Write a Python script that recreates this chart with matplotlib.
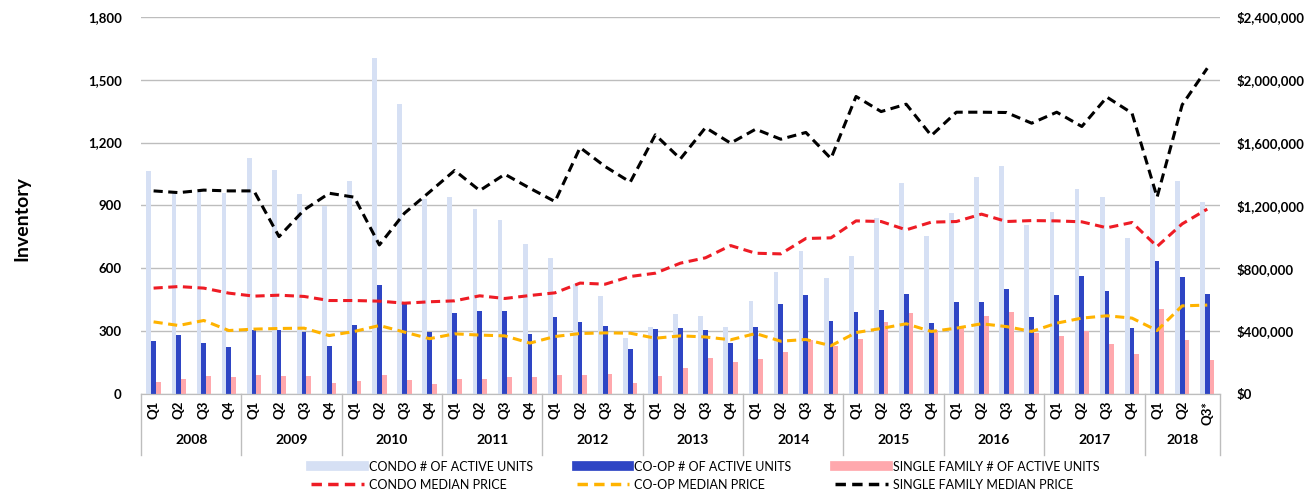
import matplotlib
matplotlib.use('Agg')
import matplotlib.pyplot as plt
import matplotlib.ticker as mticker
from matplotlib.lines import Line2D
import numpy as np

years = ['2008', '2009', '2010', '2011', '2012', '2013', '2014', '2015', '2016', '2017', '2018']
quarters = ['Q1', 'Q2', 'Q3', 'Q4'] * 10 + ['Q1', 'Q2', 'Q3*']

# inventory (# of active units)
condo_units = [1065, 961, 965, 960, 1127, 1070, 954, 895, 1017, 1603, 1383, 930,
               939, 882, 829, 716, 649, 525, 465, 267, 318, 382, 372, 318,
               444, 584, 680, 552, 659, 840, 1009, 755, 864, 1033, 1089, 806,
               869, 977, 939, 746, 998, 1017, 915]
coop_units = [252, 282, 245, 223, 306, 306, 296, 226, 330, 519, 430, 296,
              388, 396, 396, 287, 369, 341, 326, 213, 309, 315, 306, 242,
              321, 428, 470, 350, 392, 401, 479, 338, 439, 439, 501, 368,
              470, 565, 493, 312, 635, 559, 476]
sf_units = [56, 72, 86, 78, 91, 86, 86, 51, 62, 91, 68, 48,
            73, 73, 78, 78, 92, 92, 97, 51, 86, 124, 169, 154,
            166, 202, 255, 226, 263, 345, 385, 306, 314, 372, 392, 290,
            277, 301, 239, 191, 404, 259, 162]

# median prices ($ thousands)
condo_price = [673, 683, 673, 641, 622, 628, 620, 594, 594, 590, 577, 586,
               592, 624, 607, 626, 643, 705, 698, 747, 768, 832, 866, 944,
               895, 891, 989, 993, 1101, 1097, 1044, 1093, 1097, 1144, 1097, 1103,
               1101, 1095, 1057, 1091, 938, 1082, 1176]
coop_price = [458, 435, 467, 403, 412, 416, 418, 371, 397, 435, 393, 351,
              382, 374, 369, 323, 365, 384, 388, 386, 354, 369, 362, 344,
              384, 335, 346, 306, 390, 416, 446, 397, 418, 446, 428, 397,
              450, 482, 497, 482, 403, 560, 565]
sf_price = [1292, 1281, 1297, 1292, 1292, 1001, 1171, 1277, 1252, 948, 1150, 1285,
            1422, 1294, 1398, 1309, 1224, 1568, 1447, 1348, 1649, 1496, 1695, 1596,
            1685, 1621, 1664, 1498, 1893, 1797, 1844, 1644, 1793, 1793, 1791, 1723,
            1793, 1702, 1889, 1787, 1252, 1840, 2073]

c_condo = '#d6e0f4'
c_coop = '#2e45c4'
c_sf = '#ffa8ad'
c_condo_p = '#ee1c25'
c_coop_p = '#ffb300'
c_sf_p = '#000000'

plt.rcParams['font.family'] = ['Lato', 'DejaVu Sans']

fig = plt.figure(figsize=(13.06, 4.96), dpi=100)
ax = fig.add_axes([0.108, 0.206, 0.826, 0.760])
ax2 = ax.twinx()

n = len(quarters)
x = np.arange(n)
w = 0.19
ax.bar(x - w, condo_units, w, color=c_condo, zorder=2)
ax.bar(x, coop_units, w, color=c_coop, zorder=2)
ax.bar(x + w, sf_units, w, color=c_sf, zorder=2)

dash = (3, 1.8)
k = 1000
ax2.plot(x, np.array(condo_price) * k, color=c_condo_p, lw=2.2, dashes=dash)
ax2.plot(x, np.array(coop_price) * k, color=c_coop_p, lw=2.2, dashes=dash)
ax2.plot(x, np.array(sf_price) * k, color=c_sf_p, lw=2.2, dashes=dash)

ax.set_xlim(-0.5, n - 0.5)
ax.set_ylim(0, 1800)
ax.set_yticks(np.arange(0, 1801, 300))
ax.yaxis.set_major_formatter(mticker.FuncFormatter(lambda v, p: '{:,.0f}'.format(v)))
ax2.set_ylim(0, 2400000)
ax2.set_yticks(np.arange(0, 2400001, 400000))
ax2.yaxis.set_major_formatter(mticker.FuncFormatter(lambda v, p: '${:,.0f}'.format(v)))

ax.grid(axis='y', color='#bdbdbd', lw=1, zorder=0)
ax.set_axisbelow(True)
for a in (ax, ax2):
    for s in ['top', 'left', 'right']:
        a.spines[s].set_visible(False)
    a.spines['bottom'].set_color('#bdbdbd')
    a.tick_params(axis='y', length=0, labelsize=9.5)
    for lab in a.get_yticklabels():
        lab.set_fontweight('bold')
ax.tick_params(axis='y', pad=14)
ax2.tick_params(axis='y', pad=12)

ax.set_xticks(x)
ax.set_xticklabels(quarters, rotation=90, fontweight='bold', fontsize=9.5)
ax.tick_params(axis='x', length=0, pad=5)

# year labels and separators
trans = ax.get_xaxis_transform()
starts = list(range(0, n, 4)) + [n]
for i, yr in enumerate(years):
    s, e = starts[i], starts[i + 1]
    ax.text((s + e - 1) / 2, -0.123, yr, transform=trans, ha='center', va='center',
            fontweight='bold', fontsize=10)
for b in starts:
    ax.plot([b - 0.5, b - 0.5], [0, -0.162], transform=trans, color='#bdbdbd',
            lw=1, clip_on=False)

fig.text(0.017, 0.56, 'Inventory', rotation=90, ha='center', va='center',
         fontsize=14, fontweight='bold')

handles = [
    Line2D([], [], color=c_condo, lw=7),
    Line2D([], [], color=c_condo_p, lw=2.5, dashes=dash),
    Line2D([], [], color=c_coop, lw=7),
    Line2D([], [], color=c_coop_p, lw=2.5, dashes=dash),
    Line2D([], [], color=c_sf, lw=7),
    Line2D([], [], color=c_sf_p, lw=2.5, dashes=dash),
]
labels = ['CONDO # OF ACTIVE UNITS', 'CONDO MEDIAN PRICE',
          'CO-OP # OF ACTIVE UNITS', 'CO-OP MEDIAN PRICE',
          'SINGLE FAMILY # OF ACTIVE UNITS', 'SINGLE FAMILY MEDIAN PRICE']
fig.legend(handles, labels, loc='center', bbox_to_anchor=(0.54, 0.041), ncol=3,
           frameon=False, fontsize=9, handlelength=4.2, columnspacing=3.5,
           labelspacing=0.5, handletextpad=0.4)

fig.savefig('out.png', dpi=100)
